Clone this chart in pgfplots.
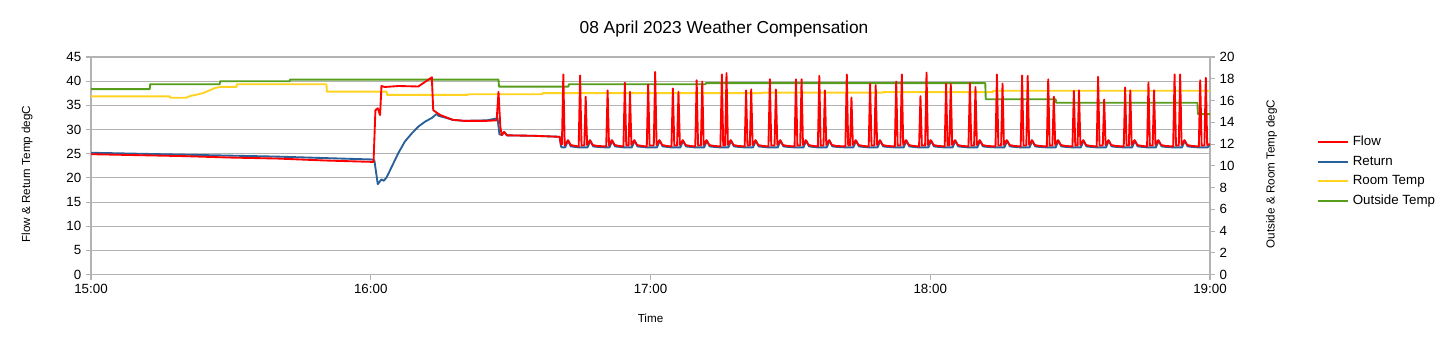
\documentclass[border=0pt]{standalone}
\usepackage{fontspec}
\setmainfont{Liberation Sans}
\usepackage{pgfplots}
\pgfplotsset{compat=1.18}
\definecolor{flowc}{HTML}{FF0000}
\definecolor{retc}{HTML}{2A6099}
\definecolor{roomc}{HTML}{FFD320}
\definecolor{outc}{HTML}{579D1C}
\definecolor{gridc}{HTML}{B3B3B3}
\pgfplotsset{
  base/.style={
    scale only axis, width=839.25pt, height=163.2pt,
    at={(68.25pt,52.8pt)}, anchor=south west,
    xmin=0, xmax=240,
    axis line style={gridc, line width=0.8pt, -},
    tick style={gridc, line width=0.8pt},
    major tick length=3.75pt,
    tick align=outside,
    ticklabel style={font=\fontsize{10}{12}\selectfont, text=black},
    /pgf/number format/assume math mode=true,
    every axis plot/.append style={line width=1.4pt, line join=round},
    label style={font=\fontsize{8.75}{10}\selectfont},
  }
}
\begin{document}
\begin{tikzpicture}
\path[use as bounding box] (0pt,0pt) rectangle (1086.75pt,258.75pt);
% grid / left axis / x axis
\begin{axis}[base,
  ymin=0, ymax=45, ytick={0,5,...,45},
  ymajorgrids, grid style={gridc, line width=0.8pt},
  axis y line*=left, axis x line*=bottom,
  xtick={0,60,120,180,240},
  xticklabels={15:00,16:00,17:00,18:00,19:00},
  xlabel={Time},
  xlabel style={at={(axis description cs:0.5,-0.1995)}, anchor=center},
  ylabel={Flow \& Return Temp degC},
  ylabel style={at={(axis description cs:-0.0572,0.4623)}, anchor=center, rotate=0},
  title={08 April 2023 Weather Compensation},
  title style={at={(axis description cs:0.5657,1.092)}, anchor=center, font=\fontsize{13}{15}\selectfont},
]
\end{axis}
% right axis: room and outside
\begin{axis}[base,
  ymin=0, ymax=20, ytick={0,2,...,20},
  axis y line*=right, axis x line=none,
  ylabel={Outside \& Room Temp degC},
  ylabel style={at={(axis description cs:1.0551,0.4623)}, anchor=center, rotate=0},
  legend image code/.code={\draw[#1] (0pt,0pt) -- (22.5pt,0pt);},
  legend cell align=left,
  legend style={at={(axis description cs:1.0953,0.474)}, anchor=west,
    draw=none, fill=none, inner sep=0pt, row sep=5.1pt,
    font=\fontsize{10}{12}\selectfont,
    nodes={inner xsep=3pt, inner ysep=0pt, text height=7.5pt, text depth=2pt}},
]
\addlegendimage{flowc, line width=1.4pt}
\addlegendentry{Flow}
\addlegendimage{retc, line width=1.4pt}
\addlegendentry{Return}
\addplot[roomc] coordinates {
(0,16.38) (16.9,16.38) (17.0,16.25) (20.4,16.25) (21.2,16.41) (22.7,16.54) (24.1,16.69) (25.5,16.95) (26.6,17.15) (27.7,17.25) (31.2,17.25) (31.3,17.5) (50.5,17.5) (50.6,16.82) (63.4,16.82) (63.5,16.52) (80.8,16.52) (80.9,16.58) (96.8,16.58) (96.9,16.68) (144.0,16.68) (144.1,16.73) (169.8,16.73) (169.9,16.77) (193.4,16.77) (193.5,16.9) (240,16.9)
};
\addlegendentry{Room Temp}
\addplot[outc] coordinates {
(0,17.05) (12.6,17.05) (12.7,17.5) (27.6,17.5) (27.7,17.77) (42.6,17.77) (42.7,17.92) (87.4,17.92) (87.5,17.28) (102.4,17.28) (102.5,17.5) (131.8,17.5) (131.9,17.6) (191.8,17.6) (191.9,16.12) (206.9,16.12) (207.0,15.8) (237.3,15.8) (237.4,14.75) (240,14.75)
};
\addlegendentry{Outside Temp}
\end{axis}
% flow and return on top
\begin{axis}[base, ymin=0, ymax=45, hide axis]
\addplot[retc] coordinates {
(0,25.2) (10,25.0) (20,24.8) (30,24.6) (40,24.4) (50,24.1) (60.5,23.8) (60.8,23.5) (61.5,18.7) (62.3,19.7) (62.8,19.4) (63.4,20.1) (64.5,22.3) (65.9,25.1) (67.3,27.5) (68.8,29.2) (70.2,30.6) (71.6,31.6) (73.1,32.4) (74.1,33.2) (74.6,32.8) (75.5,32.6) (77.6,32.0) (80,31.8) (84.9,31.9) (86.5,32.2) (87.2,32.3) (87.6,29.0) (88.1,28.9) (88.6,29.5) (89.2,28.8) (95,28.7) (100.5,28.5) (100.8,26.5)
(101.0,26.3) (101.7,26.3) (102.3,27.7) (102.9,26.5) (103.9,26.4)
(104.6,26.3) (106.5,26.3) (107.1,27.7) (107.7,26.5) (108.7,26.4)
(110.5,26.3) (111.2,26.3) (111.8,27.7) (112.4,26.5) (113.4,26.4)
(114.2,26.3) (116.0,26.3) (116.6,27.7) (117.2,26.5) (118.2,26.4)
(119.2,26.3) (121.4,26.3) (122.0,27.7) (122.6,26.5) (123.6,26.4)
(124.5,26.3) (126.4,26.3) (127.0,27.7) (127.6,26.5) (128.6,26.4)
(129.6,26.3) (131.5,26.3) (132.1,27.7) (132.7,26.5) (133.7,26.4)
(135.0,26.3) (136.7,26.3) (137.3,27.7) (137.9,26.5) (138.9,26.4)
(140.2,26.3) (142.0,26.3) (142.6,27.7) (143.2,26.5) (144.2,26.4)
(145.3,26.3) (147.3,26.3) (147.9,27.7) (148.5,26.5) (149.5,26.4)
(150.9,26.3) (152.8,26.3) (153.4,27.7) (154.0,26.5) (155.0,26.4)
(155.9,26.3) (157.8,26.3) (158.4,27.7) (159.0,26.5) (160.0,26.4)
(161.8,26.3) (163.5,26.3) (164.1,27.7) (164.7,26.5) (165.7,26.4)
(166.8,26.3) (168.7,26.3) (169.3,27.7) (169.9,26.5) (170.9,26.4)
(172.4,26.3) (174.3,26.3) (174.9,27.7) (175.5,26.5) (176.5,26.4)
(177.6,26.3) (179.6,26.3) (180.2,27.7) (180.8,26.5) (181.8,26.4)
(183.1,26.3) (184.8,26.3) (185.4,27.7) (186.0,26.5) (187.0,26.4)
(188.2,26.3) (190.1,26.3) (190.7,27.7) (191.3,26.5) (192.3,26.4)
(194.0,26.3) (195.9,26.3) (196.5,27.7) (197.1,26.5) (198.1,26.4)
(199.4,26.3) (201.3,26.3) (201.9,27.7) (202.5,26.5) (203.5,26.4)
(205.0,26.3) (206.9,26.3) (207.5,27.7) (208.1,26.5) (209.1,26.4)
(210.5,26.3) (212.3,26.3) (212.9,27.7) (213.5,26.5) (214.5,26.4)
(215.7,26.3) (217.7,26.3) (218.3,27.7) (218.9,26.5) (219.9,26.4)
(221.5,26.3) (223.3,26.3) (223.9,27.7) (224.5,26.5) (225.5,26.4)
(226.5,26.3) (228.4,26.3) (229.0,27.7) (229.6,26.5) (230.6,26.4)
(232.1,26.3) (234.0,26.3) (234.6,27.7) (235.2,26.5) (236.2,26.4)
(237.6,26.3) (239.5,26.3) (240,27.0)
};
\addplot[flowc] coordinates {
(0,24.9) (10,24.7) (20,24.5) (30,24.2) (40,24.0) (50,23.6) (60.6,23.3)
(61.0,34.0) (61.5,34.4) (62.0,33.0) (62.3,39.0) (63.0,38.8) (66,39.0) (70.2,38.9) (73.1,40.8) (73.4,34.0) (74.9,33.0) (77.6,32.0) (80,31.8) (84.9,31.8) (87.0,31.9) (87.4,37.8) (87.8,30.5) (88.1,28.8) (88.6,29.5) (89.2,28.8) (95,28.7) (100.5,28.5)
(100.8,26.9) (101.0,26.9) (101.3,41.4) (101.6,26.7) (102.3,27.8) (102.9,26.8) (103.9,26.6)
(104.6,26.5) (104.9,41.2) (105.2,26.7) (105.8,26.7) (106.1,36.8) (106.4,26.8) (107.0,27.8) (107.6,26.8) (108.6,26.6)
(110.5,26.5) (110.8,38.1) (111.1,26.7) (111.7,27.8) (112.3,26.8) (113.3,26.6)
(114.2,26.5) (114.5,39.7) (114.8,26.7) (115.3,26.7) (115.6,37.8) (115.9,26.8) (116.5,27.8) (117.1,26.8) (118.1,26.6)
(119.2,26.5) (119.5,39.3) (119.8,26.7) (120.7,26.7) (121.0,41.9) (121.3,26.8) (121.9,27.8) (122.5,26.8) (123.5,26.6)
(124.5,26.5) (124.8,38.5) (125.1,26.7) (125.7,26.7) (126.0,37.8) (126.3,26.8) (126.9,27.8) (127.5,26.8) (128.5,26.6)
(129.6,26.5) (129.9,40.2) (130.2,26.7) (130.8,26.7) (131.1,39.9) (131.4,26.8) (132.0,27.8) (132.6,26.8) (133.6,26.6)
(135.0,26.5) (135.3,41.4) (135.6,26.7) (136.0,26.7) (136.3,41.7) (136.6,26.8) (137.2,27.8) (137.8,26.8) (138.8,26.6)
(140.2,26.5) (140.5,38.1) (140.8,26.7) (141.3,26.7) (141.6,38.3) (141.9,26.8) (142.5,27.8) (143.1,26.8) (144.1,26.6)
(145.3,26.5) (145.6,40.4) (145.9,26.7) (146.6,26.7) (146.9,38.3) (147.2,26.8) (147.8,27.8) (148.4,26.8) (149.4,26.6)
(150.9,26.5) (151.2,40.4) (151.5,26.7) (152.1,26.7) (152.4,40.4) (152.7,26.8) (153.3,27.8) (153.9,26.8) (154.9,26.6)
(155.9,26.5) (156.2,41.1) (156.5,26.7) (157.1,26.7) (157.4,38.1) (157.7,26.8) (158.3,27.8) (158.9,26.8) (159.9,26.6)
(161.8,26.5) (162.1,41.4) (162.4,26.7) (162.8,26.7) (163.1,36.6) (163.4,26.8) (164.0,27.8) (164.6,26.8) (165.6,26.6)
(166.8,26.5) (167.1,39.5) (167.4,26.7) (168.0,26.7) (168.3,39.2) (168.6,26.8) (169.2,27.8) (169.8,26.8) (170.8,26.6)
(172.4,26.5) (172.7,39.9) (173.0,26.7) (173.6,26.7) (173.9,41.4) (174.2,26.8) (174.8,27.8) (175.4,26.8) (176.4,26.6)
(177.6,26.5) (177.9,36.9) (178.2,26.7) (178.9,26.7) (179.2,41.8) (179.5,26.8) (180.1,27.8) (180.7,26.8) (181.7,26.6)
(183.1,26.5) (183.4,39.5) (183.7,26.7) (184.1,26.7) (184.4,39.4) (184.7,26.8) (185.3,27.8) (185.9,26.8) (186.9,26.6)
(188.2,26.5) (188.5,39.6) (188.8,26.7) (189.4,26.7) (189.7,38.8) (190.0,26.8) (190.6,27.8) (191.2,26.8) (192.2,26.6)
(194.0,26.5) (194.3,41.4) (194.6,26.7) (195.2,26.7) (195.5,39.5) (195.8,26.8) (196.4,27.8) (197.0,26.8) (198.0,26.6)
(199.4,26.5) (199.7,41.2) (200.0,26.7) (200.6,26.7) (200.9,41.1) (201.2,26.8) (201.8,27.8) (202.4,26.8) (203.4,26.6)
(205.0,26.5) (205.3,40.4) (205.6,26.7) (206.2,26.7) (206.5,36.8) (206.8,26.8) (207.4,27.8) (208.0,26.8) (209.0,26.6)
(210.5,26.5) (210.8,38.0) (211.1,26.7) (211.6,26.7) (211.9,38.1) (212.2,26.8) (212.8,27.8) (213.4,26.8) (214.4,26.6)
(215.7,26.5) (216.0,40.9) (216.3,26.7) (217.0,26.7) (217.3,36.2) (217.6,26.8) (218.2,27.8) (218.8,26.8) (219.8,26.6)
(221.5,26.5) (221.8,38.7) (222.1,26.7) (222.6,26.7) (222.9,38.1) (223.2,26.8) (223.8,27.8) (224.4,26.8) (225.4,26.6)
(226.5,26.5) (226.8,39.7) (227.1,26.7) (227.7,26.7) (228.0,38.1) (228.3,26.8) (228.9,27.8) (229.5,26.8) (230.5,26.6)
(232.1,26.5) (232.4,41.4) (232.7,26.7) (233.3,26.7) (233.6,41.4) (233.9,26.8) (234.5,27.8) (235.1,26.8) (236.1,26.6)
(237.6,26.5) (237.9,40.2) (238.2,26.7) (238.8,26.7) (239.1,40.7) (239.4,26.8) (240,27.0)
};
\end{axis}
\end{tikzpicture}
\end{document}
